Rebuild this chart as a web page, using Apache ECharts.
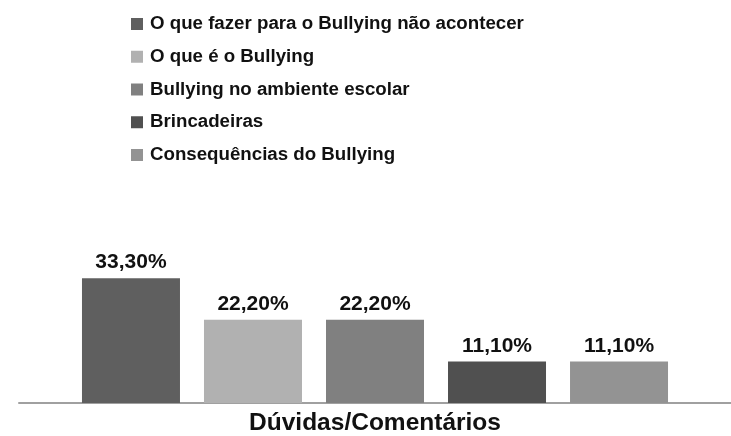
<!DOCTYPE html>
<html>
<head>
<meta charset="utf-8">
<script src="https://cdn.jsdelivr.net/npm/echarts@6/dist/echarts.min.js"></script>
<style>
html,body{margin:0;padding:0;background:#fff;}
#chart{width:731px;height:436px;}
</style>
</head>
<body>
<div id="chart"></div>
<script>
const categories = ["Dúvidas/Comentários"];
const seriesNames = [
  "O que fazer para o Bullying não acontecer",
  "O que é o Bullying",
  "Bullying no ambiente escolar",
  "Brincadeiras",
  "Consequências do Bullying"
];
const seriesValues = [33.3, 22.2, 22.2, 11.1, 11.1];
const seriesColors = ["#5f5f5f", "#b1b1b1", "#808080", "#505050", "#939393"];

const FONT = "'Liberation Sans', Arial, sans-serif";
const chart = echarts.init(document.getElementById('chart'), null, {renderer: 'canvas'});

const series = seriesNames.map((name, i) => ({
  name: name,
  type: 'bar',
  data: [seriesValues[i]],
  barWidth: 98,
  barGap: '24.5%',
  itemStyle: {color: seriesColors[i]},
  label: {
    show: true,
    position: 'top',
    distance: 5,
    formatter: p => p.value.toFixed(2).replace('.', ',') + '%',
    color: '#111',
    fontFamily: FONT,
    fontWeight: 'bold',
    fontSize: 21
  }
}));

chart.setOption({
  animation: false,
  backgroundColor: '#ffffff',
  legend: {
    orient: 'vertical',
    left: 126,
    top: 9,
    itemWidth: 12,
    itemHeight: 12,
    itemGap: 12.75,
    icon: 'rect',
    data: seriesNames,
    textStyle: {
      fontFamily: FONT,
      fontWeight: 'bold',
      fontSize: 18.7,
      lineHeight: 20,
      color: '#111',
      padding: [0, 0, 0, 2]
    }
  },
  grid: {left: 19, right: 0, top: 253, bottom: 33},
  xAxis: {
    type: 'category',
    data: categories,
    axisLine: {show: true, lineStyle: {color: '#a0a0a0', width: 2}},
    axisTick: {show: false},
    axisLabel: {
      margin: 8,
      color: '#111',
      fontFamily: FONT,
      fontWeight: 'bold',
      fontSize: 24.5
    }
  },
  yAxis: {
    type: 'value',
    min: 0,
    max: 40,
    show: false,
    splitLine: {show: false}
  },
  series: series
});
</script>
</body>
</html>
